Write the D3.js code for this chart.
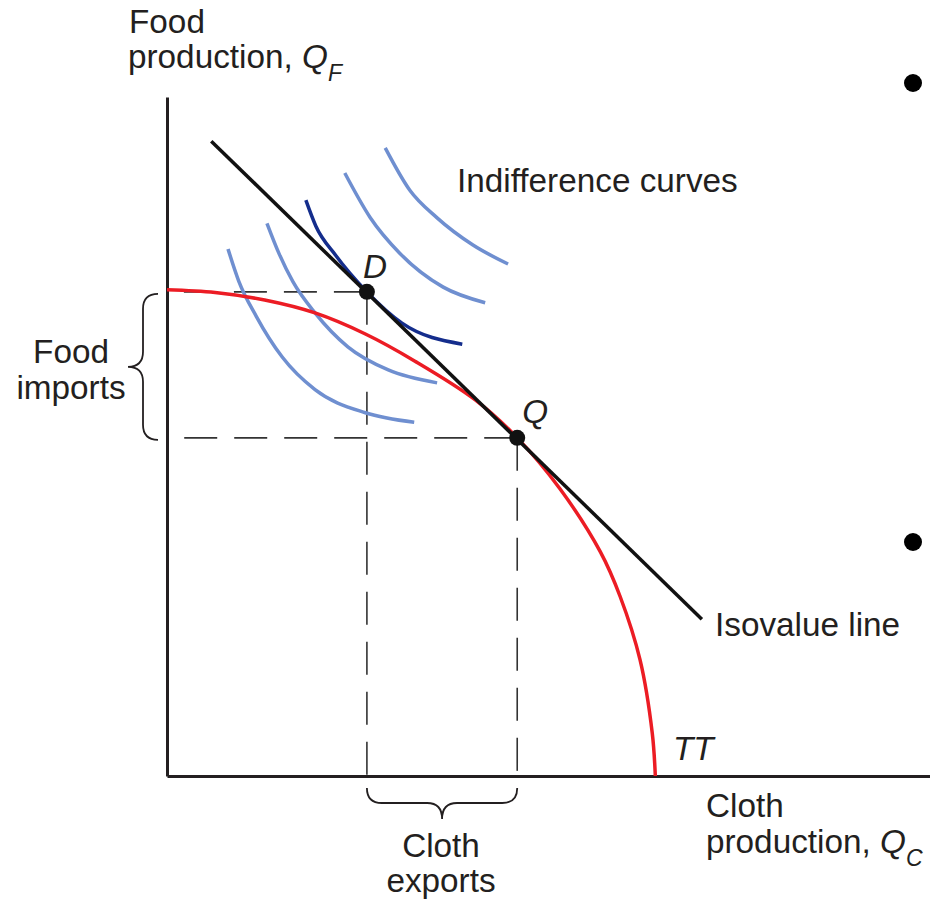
<!DOCTYPE html>
<html>
<head>
<meta charset="utf-8">
<script src="https://cdn.jsdelivr.net/npm/d3@7"></script>
<style>
  html, body { margin: 0; padding: 0; background: #fff; }
  svg { display: block; }
  text { font-family: "Liberation Sans", Arial, Helvetica, sans-serif; fill: #231f20; }
</style>
</head>
<body>
<svg id="chart" width="930" height="902"></svg>
<script>
// ---- Data (chart units: both axes 0..100) ----
const axisLabels = { y: ["Food", "production, "], ySym: ["Q", "F"], x: ["Cloth", "production, "], xSym: ["Q", "C"] };

// Transformation curve TT (production possibility frontier)
const ttCurve = [
  [0, 71.6], [6.3, 71.2], [12.8, 70.1], [19.4, 68.2], [26.0, 65.1], [32.5, 61.1],
  [40.4, 55.4], [45.9, 49.8], [51.5, 42.3], [56.8, 33.0], [59.4, 26.4],
  [62.0, 17.1], [63.6, 6.3], [64.0, 0]
];

// Isovalue line (endpoints)
const isovalueLine = [[5.8, 93.5], [70.1, 23.1]];

// Indifference curves (light blue), and the one tangent at D (dark blue)
const indiff1 = [[8.0, 77.6], [9.4, 72.9], [11.7, 67.7], [15.1, 61.7], [19.4, 56.9], [26.0, 53.5], [32.4, 52.1]];
const indiff2 = [[13.1, 81.4], [14.7, 76.9], [16.5, 72.8], [19.4, 68.2], [23.7, 63.2], [29.0, 59.8], [35.4, 57.9]];
const indiffD = [[18.2, 84.8], [19.5, 81.0], [22.1, 76.7], [26.2, 71.3], [30.8, 66.7], [38.7, 63.6]];
const indiff4 = [[23.3, 88.8], [26.6, 82.3], [30.5, 77.0], [36.2, 72.0], [41.7, 69.7]];
const indiff5 = [[28.6, 92.5], [31.8, 86.3], [35.4, 82.2], [40.1, 78.2], [44.7, 75.4]];
const lightCurves = [indiff1, indiff2, indiff4, indiff5];

// Points: consumption D and production Q
const pointNames = ["D", "Q"];
const pointValues = [[26.2, 71.3], [45.9, 49.8]];

// ---- Scales ----
const svg = d3.select("#chart");
const x = d3.scaleLinear().domain([0, 100]).range([167, 930]);
const y = d3.scaleLinear().domain([0, 100]).range([776, 97]);

const line = d3.line().x(d => x(d[0])).y(d => y(d[1])).curve(d3.curveMonotoneX);
const smooth = d3.line().x(d => x(d[0])).y(d => y(d[1])).curve(d3.curveCatmullRom.alpha(0.5));
const straight = d3.line().x(d => x(d[0])).y(d => y(d[1]));

const dark = "#231f20";
const lightBlue = "#6f8fd0";
const darkBlue = "#142d8c";
const red = "#ec1c24";

// ---- Dashed guide lines (drawn from the points toward the axes) ----
const guides = svg.append("g").attr("fill", "none").attr("stroke", "#333").attr("stroke-width", 1.6).attr("stroke-dasharray", "33,17");
pointValues.forEach(p => {
  guides.append("path").attr("d", straight([p, [0, p[1]]]));
  guides.append("path").attr("d", straight([p, [p[0], 0]]));
});

// ---- Axes ----
svg.append("g").attr("transform", `translate(0,${y(0)})`)
  .call(d3.axisBottom(x).tickValues([]).tickSizeOuter(0))
  .call(g => g.select(".domain").attr("stroke", dark).attr("stroke-width", 3));
svg.append("g").attr("transform", `translate(${x(0)},0)`)
  .call(d3.axisLeft(y).tickValues([]).tickSizeOuter(0))
  .call(g => g.select(".domain").attr("stroke", dark).attr("stroke-width", 3));

// ---- Indifference curves ----
svg.append("g").selectAll("path").data(lightCurves).join("path")
  .attr("d", line).attr("fill", "none").attr("stroke", lightBlue).attr("stroke-width", 3.5);
svg.append("path").attr("d", line(indiffD)).attr("fill", "none").attr("stroke", darkBlue).attr("stroke-width", 3.5);

// ---- TT curve ----
svg.append("path").attr("d", smooth(ttCurve)).attr("fill", "none").attr("stroke", red).attr("stroke-width", 3.5);

// ---- Isovalue line ----
svg.append("path").attr("d", straight(isovalueLine)).attr("fill", "none").attr("stroke", "#111").attr("stroke-width", 3.5);

// ---- Points ----
svg.append("g").selectAll("circle").data(pointValues).join("circle")
  .attr("cx", d => x(d[0])).attr("cy", d => y(d[1])).attr("r", 8).attr("fill", "#111");

// ---- Braces ----
const braceStyle = s => s.attr("fill", "none").attr("stroke", dark).attr("stroke-width", 1.8);
// Left brace: Food imports (between D and Q heights)
{
  const [D, Q] = pointValues;
  const y1 = y(D[1]) + 2, y2 = y(Q[1]) + 2, ym = (y1 + y2) / 2;
  const x0 = x(0) - 9, xs = x0 - 15, xt = xs - 15, r = 15;
  braceStyle(svg.append("path").attr("d",
    `M${x0},${y1} Q${xs},${y1} ${xs},${y1 + r} L${xs},${ym - r} Q${xs},${ym} ${xt},${ym} Q${xs},${ym} ${xs},${ym + r} L${xs},${y2 - r} Q${xs},${y2} ${x0},${y2}`));
}
// Bottom brace: Cloth exports (between D and Q widths)
{
  const [D, Q] = pointValues;
  const x1 = x(D[0]), x2 = x(Q[0]), xm = (x1 + x2) / 2;
  const y0 = y(0) + 12, ys = y0 + 15, yt = ys + 16, r = 15;
  braceStyle(svg.append("path").attr("d",
    `M${x1},${y0} Q${x1},${ys} ${x1 + r},${ys} L${xm - r},${ys} Q${xm},${ys} ${xm},${yt} Q${xm},${ys} ${xm + r},${ys} L${x2 - r},${ys} Q${x2},${ys} ${x2},${y0}`));
}

// ---- Text ----
const fs = 33.3;
function label(tx, ty, str, opts = {}) {
  const t = svg.append("text").attr("x", tx).attr("y", ty).attr("font-size", opts.size || fs).text(str);
  if (opts.italic) t.attr("font-style", "italic");
  if (opts.anchor) t.attr("text-anchor", opts.anchor);
  return t;
}
function symLabel(tx, ty, lead, sym) {
  const t = svg.append("text").attr("x", tx).attr("y", ty).attr("font-size", fs);
  t.append("tspan").text(lead);
  t.append("tspan").attr("font-style", "italic").text(sym[0]);
  t.append("tspan").attr("font-style", "italic").attr("font-size", 23).attr("dy", 13).text(sym[1]);
}

// Y axis title
label(129, 33, axisLabels.y[0]);
symLabel(128, 68, axisLabels.y[1], axisLabels.ySym);
// X axis title
label(706, 817, axisLabels.x[0]);
symLabel(706, 853, axisLabels.x[1], axisLabels.xSym);

label(457, 192, "Indifference curves");
label(715, 636, "Isovalue line");
label(673, 760, "TT", { italic: true });

// Point labels
label(x(pointValues[0][0]) - 4, y(pointValues[0][1]) - 14, pointNames[0], { italic: true });
label(x(pointValues[1][0]) + 5, y(pointValues[1][1]) - 15, pointNames[1], { italic: true });

// Brace labels
label(71, 363, "Food", { anchor: "middle" });
label(71, 399, "imports", { anchor: "middle" });
label(441, 857, "Cloth", { anchor: "middle" });
label(441, 892, "exports", { anchor: "middle" });

// Slide bullets at right edge
svg.append("g").selectAll("circle").data([83, 542]).join("circle")
  .attr("cx", 913).attr("cy", d => d).attr("r", 9).attr("fill", "#000");
</script>
</body>
</html>
